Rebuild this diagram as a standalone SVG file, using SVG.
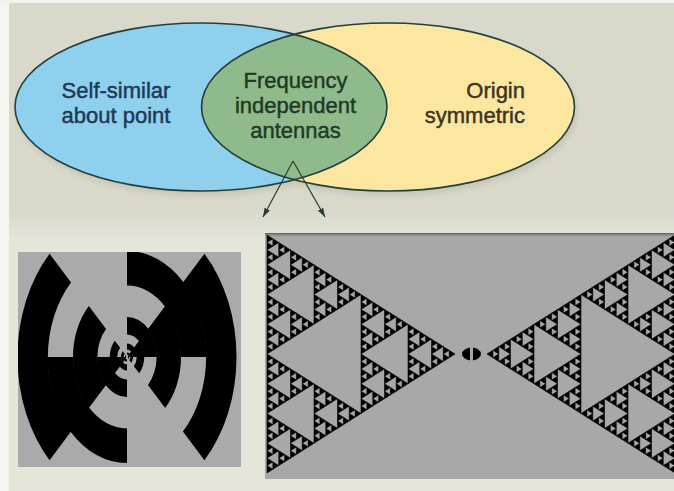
<svg xmlns="http://www.w3.org/2000/svg" xmlns:xlink="http://www.w3.org/1999/xlink" width="674" height="491" viewBox="0 0 674 491">
<style>
.lbl{font-family:"Liberation Sans",Arial,sans-serif;font-size:22px;stroke-width:0.45;}
.t-blue{fill:#1d3954;stroke:#1d3954;}
.t-green{fill:#1f3a22;stroke:#1f3a22;}
.t-yellow{fill:#3b3422;stroke:#3b3422;}
.outline{fill:none;stroke:#233f3c;stroke-width:1.6;}
.conn{fill:none;stroke:#2b3a2e;stroke-width:1.2;}
.tri{fill:#000;stroke:#000;stroke-width:0.6;vector-effect:non-scaling-stroke;stroke-linejoin:miter;}
.blk{fill:#000;}
</style>
<defs>
<linearGradient id="fade" gradientUnits="userSpaceOnUse" x1="0" y1="212" x2="0" y2="240">
<stop offset="0" stop-color="#d8d8cb"/>
<stop offset="1" stop-color="#e5e5da"/>
</linearGradient>
<linearGradient id="ptop" x1="0" y1="0" x2="0" y2="1">
<stop offset="0" stop-color="#5a5a5a"/>
<stop offset="1" stop-color="#a8a8a8" stop-opacity="0"/>
</linearGradient>
<filter id="soft" x="-10%" y="-10%" width="120%" height="130%"><feGaussianBlur stdDeviation="3"/></filter>
<clipPath id="clipRightEll"><ellipse cx="388" cy="107" rx="186.5" ry="84"/></clipPath>
<clipPath id="clipL"><rect x="18" y="252" width="223" height="215"/></clipPath>
<clipPath id="clipR"><rect x="265" y="233" width="409" height="246"/></clipPath>
<marker id="arrow" markerWidth="9" markerHeight="6" refX="9" refY="3" orient="auto" markerUnits="userSpaceOnUse"><path d="M0,0 L9,3 L0,6 Z" fill="#2b3a2e"/></marker>
<polygon id="s0" class="tri" points="0,-1 0,1 1,0"/>
<g id="s1"><use xlink:href="#s0" transform="translate(0,-0.5) scale(0.5)"/><use xlink:href="#s0" transform="translate(0,0.5) scale(0.5)"/><use xlink:href="#s0" transform="translate(0.5,0) scale(0.5)"/></g>
<g id="s2"><use xlink:href="#s1" transform="translate(0,-0.5) scale(0.5)"/><use xlink:href="#s1" transform="translate(0,0.5) scale(0.5)"/><use xlink:href="#s1" transform="translate(0.5,0) scale(0.5)"/></g>
<g id="s3"><use xlink:href="#s2" transform="translate(0,-0.5) scale(0.5)"/><use xlink:href="#s2" transform="translate(0,0.5) scale(0.5)"/><use xlink:href="#s2" transform="translate(0.5,0) scale(0.5)"/></g>
<g id="s4"><use xlink:href="#s3" transform="translate(0,-0.5) scale(0.5)"/><use xlink:href="#s3" transform="translate(0,0.5) scale(0.5)"/><use xlink:href="#s3" transform="translate(0.5,0) scale(0.5)"/></g>
<g id="s5"><use xlink:href="#s4" transform="translate(0,-0.5) scale(0.5)"/><use xlink:href="#s4" transform="translate(0,0.5) scale(0.5)"/><use xlink:href="#s4" transform="translate(0.5,0) scale(0.5)"/></g>
<g id="arm" class="blk">
<path d="M103.24,103.24 A146,146 0 0 0 103.24,-103.24 L74.6,-74.6 A105.5,105.5 0 0 1 74.6,74.6 Z"/>
<path d="M106,0 A106,106 0 0 0 0,-106 L0,-71.5 A71.5,71.5 0 0 1 71.5,0 Z"/>
<path d="M50.91,50.91 A72,72 0 0 0 50.91,-50.91 L27.93,-27.93 A39.5,39.5 0 0 1 27.93,27.93 Z"/>
<path d="M40,0 A40,40 0 0 0 0,-40 L0,-22.5 A22.5,22.5 0 0 1 22.5,0 Z"/>
<path d="M16.26,16.26 A23,23 0 0 0 16.26,-16.26 L9.19,-9.19 A13,13 0 0 1 9.19,9.19 Z"/>
<path d="M13.5,0 A13.5,13.5 0 0 0 0,-13.5 L0,-7.6 A7.6,7.6 0 0 1 7.6,0 Z"/>
<path d="M5.66,5.66 A8,8 0 0 0 5.66,-5.66 L3.04,-3.04 A4.3,4.3 0 0 1 3.04,3.04 Z"/>
<path d="M4.6,0 A4.6,4.6 0 0 0 0,-4.6 L0,-2.4 A2.4,2.4 0 0 1 2.4,0 Z"/>
<path d="M1.91,1.91 A2.7,2.7 0 0 0 1.91,-1.91 L1.06,-1.06 A1.5,1.5 0 0 1 1.06,1.06 Z"/>
</g>
</defs>

<rect x="0" y="0" width="674" height="491" fill="#d8d8cb"/>
<rect x="9" y="212" width="665" height="279" fill="url(#fade)"/>
<rect x="0" y="0" width="9" height="491" fill="#f6f6f1"/>
<rect x="0" y="0" width="674" height="3" fill="#f3f3ee"/>

<g id="venn-shadow" opacity="0.18" filter="url(#soft)">
<ellipse cx="203" cy="111" rx="186" ry="84" fill="#6b6650"/>
<ellipse cx="390" cy="111" rx="186.5" ry="84" fill="#6b6650"/>
</g>

<g id="venn-right">
<ellipse cx="388" cy="107" rx="186.5" ry="84" fill="#fbe79f"/>
</g>
<g id="venn-left">
<ellipse cx="201" cy="107" rx="186" ry="84" fill="#8fd0ef"/>
</g>
<g id="venn-overlap">
<ellipse cx="201" cy="107" rx="186" ry="84" fill="#8fba8c" clip-path="url(#clipRightEll)"/>
</g>
<g id="venn-outlines">
<ellipse class="outline" cx="201" cy="107" rx="186" ry="84"/>
<ellipse class="outline" cx="388" cy="107" rx="186.5" ry="84"/>
</g>

<g id="label-left" class="lbl t-blue" text-anchor="middle">
<text x="116" y="97.5">Self-similar</text>
<text x="116" y="122.5">about point</text>
</g>
<g id="label-overlap" class="lbl t-green" text-anchor="middle">
<text x="295.5" y="87.5">Frequency</text>
<text x="295.5" y="112.5">independent</text>
<text x="295.5" y="137.5">antennas</text>
</g>
<g id="label-right" class="lbl t-yellow" text-anchor="end">
<text x="525" y="97.5">Origin</text>
<text x="525" y="122.5">symmetric</text>
</g>

<g id="connectors">
<path class="conn" d="M293,161 L263,217" marker-end="url(#arrow)"/>
<path class="conn" d="M293,161 L325,217" marker-end="url(#arrow)"/>
</g>

<g id="panel-left">
<rect x="18" y="252" width="223" height="215" fill="#aaaaaa"/>
<g clip-path="url(#clipL)">
<g transform="translate(127,357) scale(0.75,1)">
<use xlink:href="#arm"/>
<use xlink:href="#arm" transform="rotate(180)"/>
</g>
</g>
</g>

<g id="panel-right">
<rect x="265" y="233" width="409" height="246" fill="#a8a8a8"/>
<rect x="265" y="233" width="409" height="5" fill="url(#ptop)"/>
<g clip-path="url(#clipR)">
<use xlink:href="#s5" transform="translate(267,354) scale(188,119)"/>
<use xlink:href="#s5" transform="translate(675,354) scale(-188,119)"/>
<ellipse cx="471.5" cy="354" rx="9.5" ry="6.5" fill="#000"/>
<rect x="470" y="346" width="3" height="16" fill="#a8a8a8"/>
</g>
</g>
</svg>
